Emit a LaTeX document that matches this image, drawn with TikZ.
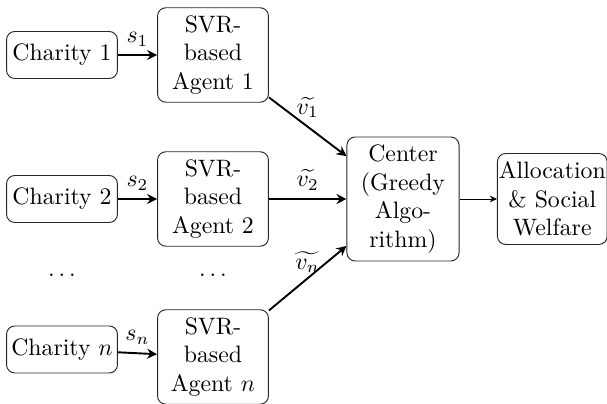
\documentclass[tikz,border=0pt]{standalone}
\usetikzlibrary{arrows.meta, positioning}

\begin{document}
\begin{tikzpicture}[x=0.421pt, y=-0.421pt,
  box/.style={draw=black!85, thin, rounded corners=3.5pt, align=center,
    font=\fontsize{10}{12}\selectfont},
  charity/.style={box, inner xsep=2pt, minimum width=46.7pt, minimum height=19.8pt},
  agent/.style={box, minimum width=46.7pt, minimum height=39.6pt},
  flow/.style={thick, -{Stealth[length=4.2pt, width=4.2pt, inset=1.4pt]}}]
  \useasboundingbox (0,0) rectangle (607,404);

% charities and their agents
\node[charity] (c1) at (62,55) {Charity 1};
\node[agent] (a1) at (213,55) {SVR-\\based\\Agent 1};
\node[charity] (c2) at (62,199) {Charity 2};
\node[agent] (a2) at (213,199) {SVR-\\based\\Agent 2};
\node[charity] (cn) at (62,349.5) {Charity $n$};
\node[agent] (an) at (213,357) {SVR-\\based\\Agent $n$};

\node (d1) at (62,275) {$\dots$};
\node (d2) at (213,275) {$\dots$};

% center and result
\node[box, minimum width=47.2pt, minimum height=52.2pt] (ctr) at (403,199)
  {Center\\(Greedy\\Algo-\\rithm)};
\node[box, inner xsep=0.6pt, minimum width=45.9pt, minimum height=38.3pt] (alloc) at (552.3,199)
  {Allocation\\\& Social\\Welfare};

\draw[flow] (c1) -- (a1) node[midway, above] {$s_1$};
\draw[flow] (c2) -- (a2) node[midway, above] {$s_2$};
\draw[flow] (cn) -- (an) node[midway, above] {$s_n$};

\draw[flow] (a1) -- (ctr) node[midway, above] {$\widetilde{v_1}$};
\draw[flow] (a2) -- (ctr) node[midway, above] {$\widetilde{v_2}$};
\draw[flow] (an) -- (ctr) node[midway, above, yshift=-1.5pt] {$\widetilde{v_n}$};

\draw[thin, -{Stealth[length=3pt, width=2.8pt, inset=1pt]}] (ctr) -- (alloc);

\end{tikzpicture}
\end{document}
